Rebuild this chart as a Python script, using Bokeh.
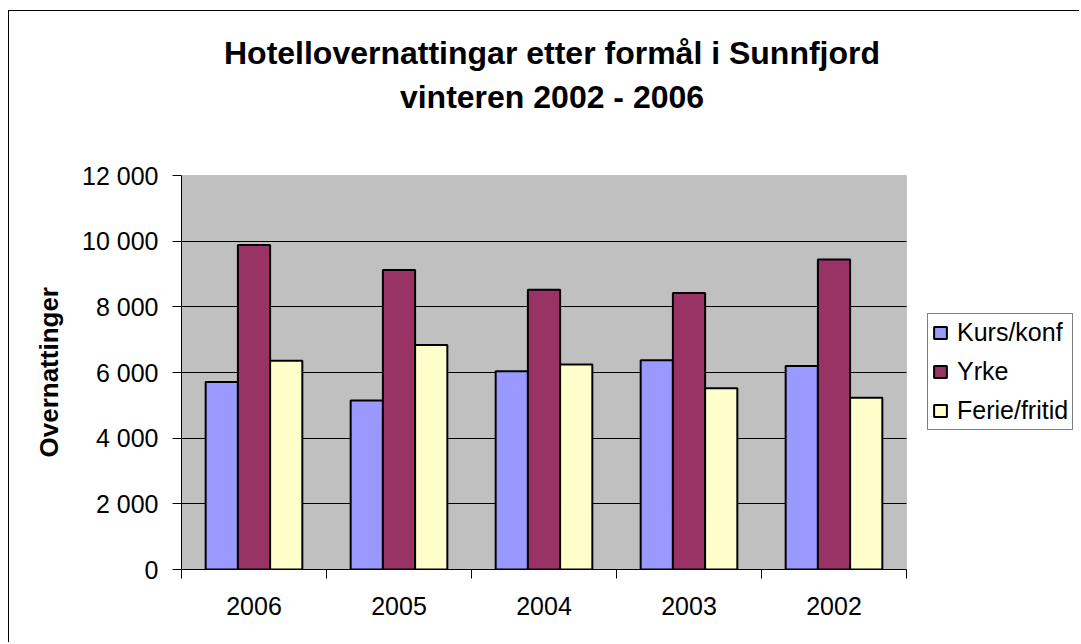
from bokeh.plotting import figure
from bokeh.models import (Range1d, FixedTicker, CustomJSTickFormatter, Label, Legend,
                          LegendItem, ColumnDataSource, BoxAnnotation, Title)
from bokeh.transform import dodge
from bokeh.embed import file_html
from bokeh.resources import INLINE

# ---- data ----
years = ["2006", "2005", "2004", "2003", "2002"]
kurs = [5710, 5150, 6040, 6370, 6200]
yrke = [9880, 9120, 8520, 8420, 9440]
ferie = [6360, 6840, 6240, 5520, 5230]
series_names = ["Kurs/konf", "Yrke", "Ferie/fritid"]
series_colors = ["#9999FF", "#993366", "#FFFFCC"]
y_ticks = [0, 2000, 4000, 6000, 8000, 10000, 12000]
title_lines = ["Hotellovernattingar etter formål i Sunnfjord", "vinteren 2002 - 2006"]
y_label = "Overnattinger"

FONT = "Liberation Sans"
W, H = 1071, 632          # canvas size (page offset 9, 11 due to css margin+border)
ML = 172                  # y-axis position in canvas
PW, PH = 725, 394         # plot-area size in px
MB = 74                   # below plot area
FRAME_W = W - ML
FRAME_H = H - MB
n = len(years)
y_top = y_ticks[-1]

src = ColumnDataSource(dict(pos=[i + 0.5 for i in range(n)],
                            kurs=kurs, yrke=yrke, ferie=ferie))

p = figure(width=W, height=H, output_backend="svg", toolbar_location=None,
           x_range=Range1d(0, n * FRAME_W / PW), y_range=Range1d(0, y_top * FRAME_H / PH),
           min_border_left=ML, min_border_top=0, min_border_right=0, min_border_bottom=MB,
           background_fill_color="white", border_fill_color="white",
           outline_line_color=None,
           styles={"margin-left": "8px", "margin-top": "10px",
                   "border-left": "1px solid black", "border-top": "1px solid black"})

# plot area background
p.add_layout(BoxAnnotation(left=0, right=n, bottom=0, top=y_top,
                           fill_color="#C0C0C0", fill_alpha=1,
                           line_color="#808080", line_width=1, level="image"))

bw = 1 / 4.5
cols = ["kurs", "yrke", "ferie"]
offs = [-bw, 0, bw]
items = []
for col, off, name, color in zip(cols, offs, series_names, series_colors):
    r = p.vbar(x=dodge("pos", off, range=p.x_range), top=col, width=bw, source=src,
               fill_color=color, line_color="black", line_width=2)
    items.append(LegendItem(label=name, renderers=[r]))

# grid
p.xgrid.visible = False
p.ygrid.grid_line_color = "black"
p.ygrid.grid_line_width = 1
p.ygrid.ticker = FixedTicker(ticks=y_ticks[1:-1])
p.ygrid.cross_bounds = (0, n)

# y axis
ya = p.yaxis[0]
ya.bounds = (0, y_top)
ya.ticker = FixedTicker(ticks=y_ticks)
ya.formatter = CustomJSTickFormatter(code=r"return tick.toFixed(0).replace(/\B(?=(\d{3})+(?!\d))/g, ' ');")
ya.axis_line_color = "black"
ya.major_tick_line_color = "black"
ya.major_tick_in = 0
ya.major_tick_out = 9
ya.minor_tick_line_color = None
ya.major_label_text_font = FONT
ya.major_label_text_font_size = "25px"
ya.major_label_text_color = "black"
ya.major_label_standoff = 14

# y axis title (left panel, positioned from the plot-area bottom)
p.add_layout(Title(text=y_label, align="left", offset=112, standoff=31,
                   vertical_align="bottom",
                   text_font=FONT, text_font_style="bold", text_font_size="26px",
                   text_color="black"), "left")

# x axis
xa = p.xaxis[0]
xa.bounds = (0, n)
xa.ticker = FixedTicker(ticks=[i + 0.5 for i in range(n)],
                        minor_ticks=list(range(n + 1)))
xa.formatter = CustomJSTickFormatter(args=dict(labels=years),
                                     code="return labels[Math.floor(tick)] || '';")
xa.axis_line_color = "black"
xa.major_tick_line_color = None
xa.major_tick_in = 0
xa.major_tick_out = 0
xa.minor_tick_line_color = "black"
xa.minor_tick_in = 0
xa.minor_tick_out = 9
xa.major_label_text_font = FONT
xa.major_label_text_font_size = "25px"
xa.major_label_text_color = "black"
xa.major_label_standoff = 18

# chart title
for txt, yy in zip(title_lines, [517, 473]):
    p.add_layout(Label(x=370.5, y=yy, x_units="screen", y_units="screen", text=txt,
                       text_align="center", text_baseline="alphabetic",
                       text_font=FONT, text_font_style="bold", text_font_size="32px",
                       text_color="black"))

legend = Legend(items=items, location=(746, 139), orientation="vertical",
                border_line_color="black", border_line_width=1,
                background_fill_color="white", background_fill_alpha=1,
                label_text_font=FONT, label_text_font_size="25px", label_text_color="black",
                glyph_width=16, glyph_height=15, label_standoff=9, label_height=29,
                spacing=10, padding=4, margin=0)
p.add_layout(legend, "center")

open("out.html", "w").write(file_html(p, INLINE))
